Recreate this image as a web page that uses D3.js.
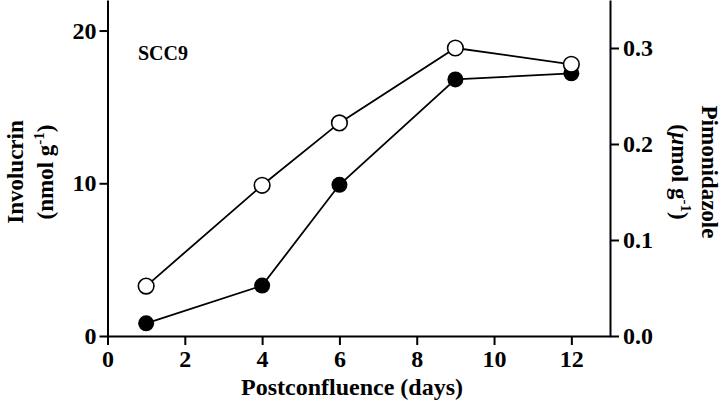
<!DOCTYPE html>
<html><head><meta charset="utf-8">
<script src="https://cdn.jsdelivr.net/npm/d3@7"></script>
<style>body{margin:0;background:#fff}svg{display:block}text{font-family:"Liberation Serif","Times New Roman",serif;font-weight:bold;fill:#000}</style>
</head><body><svg id="c" width="728" height="407"></svg>
<script>
const days = [1, 4, 6, 9, 12];
const involucrin = [0.83, 3.3, 9.9, 16.8, 17.2];      // filled circles, left axis (nmol g-1)
const pimonidazole = [0.052, 0.157, 0.222, 0.300, 0.283]; // open circles, right axis (µmol g-1)
const xTicks = [0, 2, 4, 6, 8, 10, 12];
const yLeftTicks = [0, 10, 20];
const yRightTicks = [0.0, 0.1, 0.2, 0.3];

const svg = d3.select("#c");
const L = 107.5, R = 610, T = 0, B = 336;
const x = d3.scaleLinear().domain([0, 13]).range([L, R]);
const yL = d3.scaleLinear().domain([0, 22]).range([B, T]);
const yR = d3.scaleLinear().domain([0, 0.35]).range([B, T]);

function styleAxis(g, fs){
  g.select(".domain").attr("stroke","#000").attr("stroke-width",2);
  g.selectAll(".tick line").attr("stroke","#000").attr("stroke-width",2);
  g.selectAll(".tick text").attr("font-size",fs).attr("font-family","Liberation Serif").attr("font-weight","bold").attr("fill","#000");
}

const gx = svg.append("g").attr("transform",`translate(0,${B})`)
  .call(d3.axisBottom(x).tickValues(xTicks).tickSize(9).tickSizeOuter(0).tickPadding(5).tickFormat(d3.format("d")));
styleAxis(gx, 24);
const gl = svg.append("g").attr("transform",`translate(${L},0)`)
  .call(d3.axisLeft(yL).tickValues(yLeftTicks).tickSize(8).tickSizeOuter(0).tickPadding(3).tickFormat(d3.format("d")));
styleAxis(gl, 24);
const gr = svg.append("g").attr("transform",`translate(${R},0)`)
  .call(d3.axisRight(yR).tickValues(yRightTicks).tickSize(9).tickSizeOuter(0).tickPadding(4).tickFormat(d3.format(".1f")));
styleAxis(gr, 24);

// lines
const lineL = d3.line().x((d,i)=>x(days[i])).y(d=>yL(d));
const lineR = d3.line().x((d,i)=>x(days[i])).y(d=>yR(d));
svg.append("path").datum(pimonidazole).attr("d",lineR).attr("fill","none").attr("stroke","#000").attr("stroke-width",1.8);
svg.append("path").datum(involucrin).attr("d",lineL).attr("fill","none").attr("stroke","#000").attr("stroke-width",1.8);
svg.selectAll("circle.f").data(involucrin).enter().append("circle")
  .attr("cx",(d,i)=>x(days[i])).attr("cy",d=>yL(d)).attr("r",8).attr("fill","#000");
svg.selectAll("circle.o").data(pimonidazole).enter().append("circle")
  .attr("cx",(d,i)=>x(days[i])).attr("cy",d=>yR(d)).attr("r",7.8).attr("fill","#fff").attr("stroke","#000").attr("stroke-width",1.6);

// titles
svg.append("text").attr("x",352).attr("y",395).attr("text-anchor","middle").attr("font-size",24).text("Postconfluence (days)");
svg.append("text").attr("x",138).attr("y",60).attr("font-size",20).text("SCC9");

const lt = svg.append("g").attr("transform","translate(15,172) rotate(-90)");
lt.append("text").attr("x",0).attr("y",8).attr("text-anchor","middle").attr("font-size",23).text("Involucrin");
const lt2 = lt.append("text").attr("x",0).attr("y",38).attr("text-anchor","middle").attr("font-size",23);
lt2.append("tspan").text("(nmol g");
lt2.append("tspan").attr("dy",-9).attr("font-size",15).text("-1");
lt2.append("tspan").attr("dy",9).text(")");

const rt = svg.append("g").attr("transform","translate(710,172) rotate(90)");
rt.append("text").attr("x",0).attr("y",8).attr("text-anchor","middle").attr("font-size",23).text("Pimonidazole");
const rt2 = rt.append("text").attr("x",0).attr("y",38).attr("text-anchor","middle").attr("font-size",23);
rt2.append("tspan").text("(");
rt2.append("tspan").attr("font-style","italic").text("µ");
rt2.append("tspan").text("mol g");
rt2.append("tspan").attr("dy",-9).attr("font-size",15).text("-1");
rt2.append("tspan").attr("dy",9).text(")");
</script></body></html>
